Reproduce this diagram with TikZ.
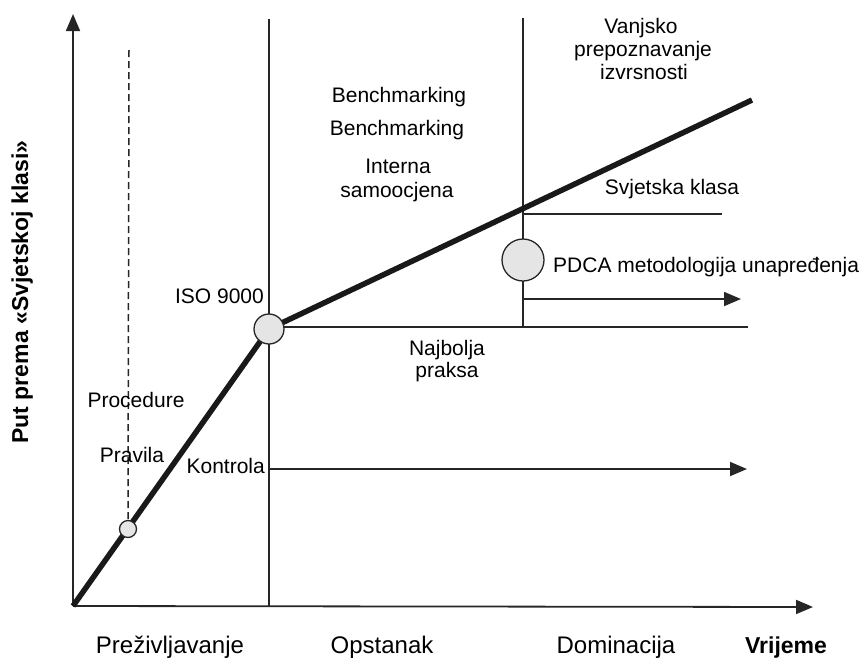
\documentclass[tikz,border=0pt]{standalone}
\usepackage{fontspec}
\setmainfont{Liberation Sans}
\usetikzlibrary{arrows.meta}
\tikzset{
  thin line/.style={line width=1.8pt, draw=black!85},
  axis/.style={thin line, -{Triangle[length=17pt,width=14pt]}},
  arrline/.style={thin line, -{Triangle[length=17pt,width=14pt]}},
  thick path/.style={line width=5.5pt, draw=black!90},
  dot/.style={circle, draw=black!85, line width=1.3pt, fill=black!10, inner sep=0pt},
  lbl/.style={font=\fontsize{21}{24}\selectfont, inner sep=0pt, anchor=base},
  phase/.style={font=\fontsize{24}{28}\selectfont, inner sep=0pt, anchor=base},
  blbl/.style={font=\fontsize{23}{26}\selectfont\bfseries, inner sep=0pt, anchor=base},
}
\begin{document}
\begin{tikzpicture}[x=1pt,y=-1pt]
\useasboundingbox (0,0) rectangle (865,657);
% coordinates
\coordinate (origin) at (73,606);
\coordinate (ytip) at (73,14);
\coordinate (xtip) at (813,607);
\coordinate (v1top) at (269,19);
\coordinate (v1bot) at (269,606);
\coordinate (v2top) at (523,18);
\coordinate (v2bot) at (523,327);
\coordinate (thickend) at (752,100);
\coordinate (dashtop) at (129,50);
\coordinate (hbaseL) at (269,327);
\coordinate (hbaseR) at (748,327);
\coordinate (wcL) at (523,214);
\coordinate (wcR) at (722,214);
\coordinate (pdcaL) at (523,299);
\coordinate (pdcaR) at (741,299);
\coordinate (kontL) at (269,469);
\coordinate (kontR) at (747,469);
\coordinate (isoC) at (269,329);
\coordinate (smallC) at (128,529);
\coordinate (pdcaC) at (523,260);
% lines
\draw[thin line] (v1top) -- (v1bot);
\draw[thin line] (v2top) -- (v2bot);
\draw[thin line] (hbaseL) -- (hbaseR);
\draw[thin line] (wcL) -- (wcR);
\draw[arrline] (pdcaL) -- (pdcaR);
\draw[arrline] (kontL) -- (kontR);
\draw[thin line, line width=1.5pt, dash pattern=on 7pt off 4pt] (dashtop) -- (smallC);
\draw[axis] (origin) -- (ytip);
\draw[axis] (origin) -- (xtip);
\draw[thick path] (origin) -- (isoC) -- (thickend);
% circles
\node[dot, minimum size=30pt] (iso) at (isoC) {};
\node[dot, minimum size=17pt] (small) at (smallC) {};
\node[dot, minimum size=42pt] (pdca) at (pdcaC) {};
% labels
\node[lbl] (bm1) at (399,102) {Benchmarking};
\node[lbl] (bm2) at (397,135) {Benchmarking};
\node[lbl] (int1) at (398,173) {Interna};
\node[lbl] (int2) at (397,197) {samoocjena};
\node[lbl] (van1) at (641,33) {Vanjsko};
\node[lbl] (van2) at (643,56) {prepoznavanje};
\node[lbl] (van3) at (644,79) {izvrsnosti};
\node[lbl] (svk) at (672,194) {Svjetska klasa};
\node[lbl, anchor=base west] (pdcat) at (553,272) {PDCA metodologija unapređenja};
\node[lbl, anchor=base east] (isot) at (264,303) {ISO 9000};
\node[lbl] (naj1) at (447,355) {Najbolja};
\node[lbl] (naj2) at (447,377) {praksa};
\node[lbl] (proc) at (136,407) {Procedure};
\node[lbl] (prav) at (132,462) {Pravila};
\node[lbl, anchor=base east] (kont) at (265,473) {Kontrola};
\node[phase] (prez) at (170,653) {Preživljavanje};
\node[phase] (opst) at (382,653) {Opstanak};
\node[phase] (domi) at (616,653) {Dominacija};
\node[blbl] (vrij) at (786,653) {Vrijeme};
\node[blbl, rotate=90] (ylab) at (28,292) {Put prema «Svjetskoj klasi»};
\end{tikzpicture}
\end{document}
